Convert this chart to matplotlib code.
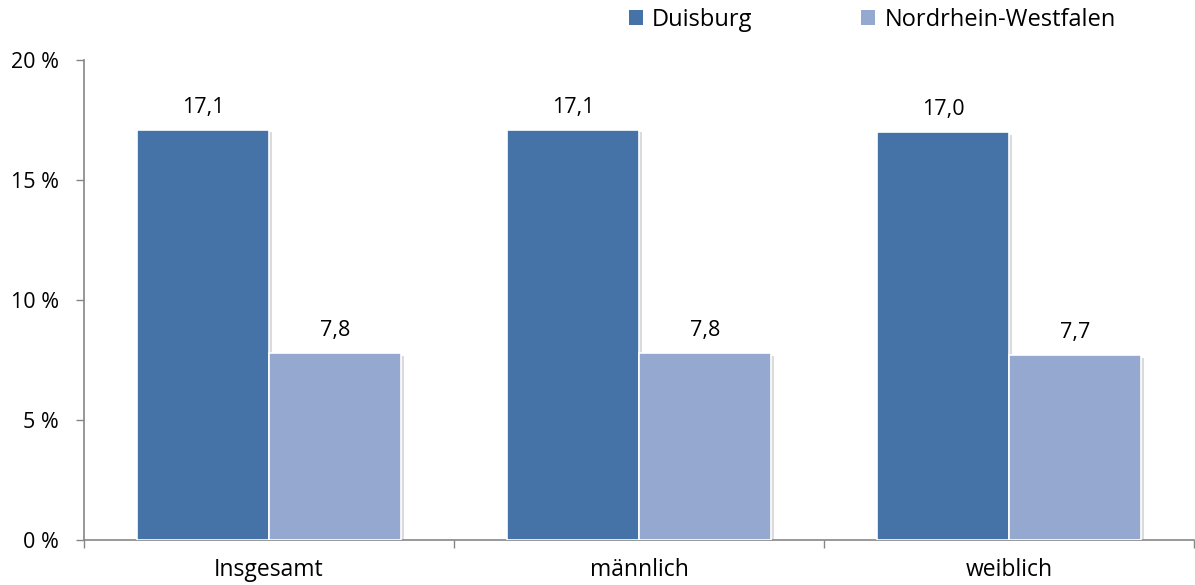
import numpy as np
import matplotlib
matplotlib.use('Agg')
import matplotlib.pyplot as plt
import matplotlib.patheffects as pe
from matplotlib.patches import Patch

# ---------- data ----------
categories = ['Insgesamt', 'männlich', 'weiblich']
duisburg = [17.1, 17.1, 17.0]
nrw = [7.8, 7.8, 7.7]
series_names = ['Duisburg', 'Nordrhein-Westfalen']
yticks = [0, 5, 10, 15, 20]

col_dui = '#4573a7'
col_nrw = '#95a9d0'
axis_col = '#868686'

plt.rcParams['font.family'] = ['Open Sans', 'DejaVu Sans']
fs = 15.5

W, H = 1195, 585
fig = plt.figure(figsize=(W / 100, H / 100), dpi=100)
ax = fig.add_axes([84 / W, (H - 540) / H, (1194 - 84) / W, 480 / H])

x = np.arange(len(categories))
bw = 0.357
shadow = [pe.SimplePatchShadow(offset=(2, -2), shadow_rgbFace='#999999', alpha=0.35), pe.Normal()]

b1 = ax.bar(x - bw / 2, duisburg, bw, color=col_dui, edgecolor='white', linewidth=1.2, zorder=3)
b2 = ax.bar(x + bw / 2, nrw, bw, color=col_nrw, edgecolor='white', linewidth=1.2, zorder=3)
for b in list(b1) + list(b2):
    b.set_path_effects(shadow)

# value labels
for bars, vals in ((b1, duisburg), (b2, nrw)):
    for b, v in zip(bars, vals):
        ax.annotate(f'{v:.1f}'.replace('.', ','),
                    (b.get_x() + b.get_width() / 2, v),
                    xytext=(0, 8.5), textcoords='offset points',
                    ha='center', va='bottom', fontsize=fs, color='black')

ax.set_xlim(-0.5, len(categories) - 0.5)
ax.set_ylim(0, 20)
ax.set_yticks(yticks)
ax.set_yticklabels([f'{t} %' for t in yticks], fontsize=fs)

# category boundaries as x ticks, labels as minor ticks
ax.set_xticks(np.arange(-0.5, len(categories), 1.0))
ax.set_xticklabels([])
ax.set_xticks(x, minor=True)
ax.set_xticklabels(categories, minor=True, fontsize=16.5)
ax.tick_params(axis='x', which='major', length=6, width=1, color=axis_col, direction='out')
ax.tick_params(axis='x', which='minor', length=0, pad=13)
ax.tick_params(axis='y', length=6, width=1, color=axis_col, direction='out', pad=12)

for s in ('top', 'right'):
    ax.spines[s].set_visible(False)
for s in ('left', 'bottom'):
    ax.spines[s].set_color(axis_col)
    ax.spines[s].set_linewidth(1.2)

# legend
handles = [Patch(facecolor=col_dui, edgecolor='none'), Patch(facecolor=col_nrw, edgecolor='none')]
fig.legend(handles, series_names, loc='center left', bbox_to_anchor=(629 / W, 1 - 20 / H),
           ncol=2, frameon=False, fontsize=17, handlelength=0.6, handleheight=0.6,
           handletextpad=0.38, columnspacing=4.6, borderaxespad=0, borderpad=0)

fig.savefig('out.png', dpi=100)
